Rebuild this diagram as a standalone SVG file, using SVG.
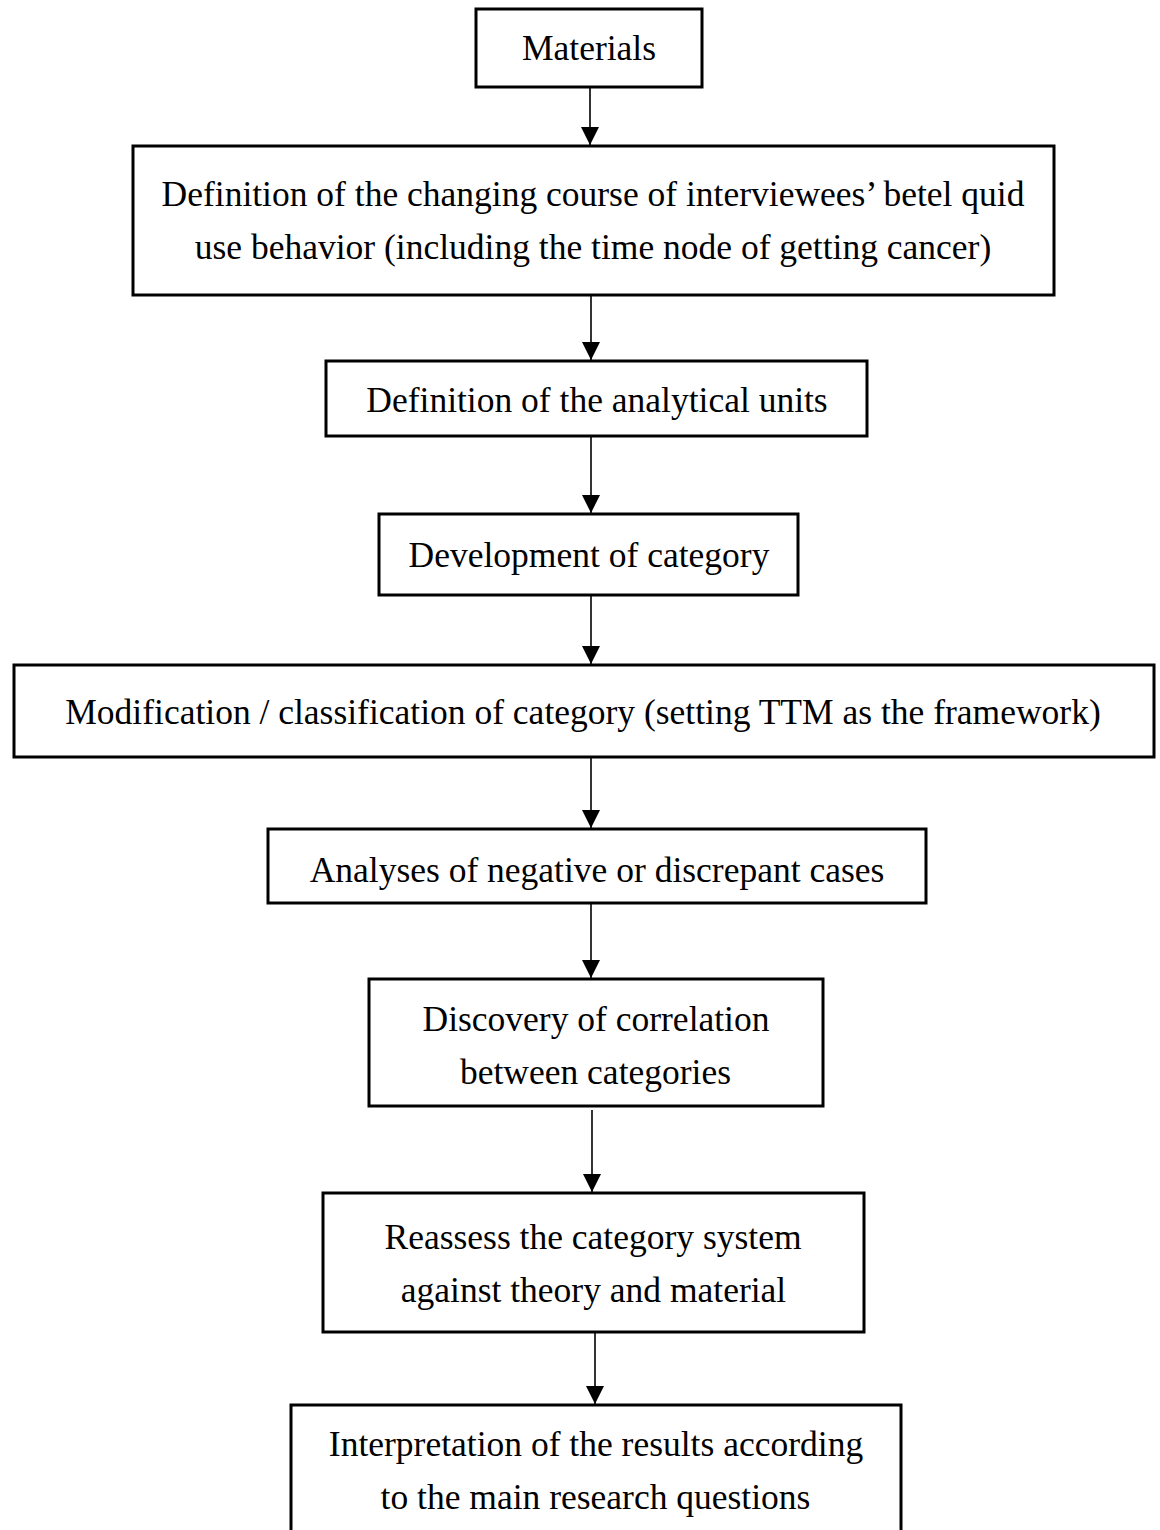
<svg xmlns="http://www.w3.org/2000/svg" width="1160" height="1530" viewBox="0 0 1160 1530">
<style>
.box{fill:#fff;stroke:#000;stroke-width:3}
.t{font-family:"Liberation Serif","Times New Roman",serif;font-size:35.5px;fill:#000;text-anchor:middle}
.c{stroke:#000;stroke-width:1.6;fill:none;marker-end:url(#ah)}
</style>
<defs>
<marker id="ah" markerUnits="userSpaceOnUse" markerWidth="20" markerHeight="20" viewBox="0 0 20 20" refX="18" refY="10" orient="auto">
<path d="M0,1 L18,10 L0,19 Z" fill="#000"/>
</marker>
</defs>
<rect width="1160" height="1530" fill="#fff"/>
<g id="connectors">
<line class="c" x1="590" y1="88" x2="590" y2="145"/>
<line class="c" x1="591" y1="296" x2="591" y2="360"/>
<line class="c" x1="591" y1="437" x2="591" y2="513"/>
<line class="c" x1="591" y1="596" x2="591" y2="664"/>
<line class="c" x1="591" y1="758" x2="591" y2="828"/>
<line class="c" x1="591" y1="904" x2="591" y2="978"/>
<line class="c" x1="592" y1="1110" x2="592" y2="1192"/>
<line class="c" x1="595" y1="1333" x2="595" y2="1404"/>
</g>
<g id="n1"><rect class="box" x="476" y="9" width="226" height="78"/><text class="t" x="589" y="60">Materials</text></g>
<g id="n2"><rect class="box" x="133" y="146" width="921" height="149"/><text class="t" x="593" y="206">Definition of the changing course of interviewees’ betel quid</text><text class="t" x="593" y="259">use behavior (including the time node of getting cancer)</text></g>
<g id="n3"><rect class="box" x="326" y="361" width="541" height="75"/><text class="t" x="597" y="412">Definition of the analytical units</text></g>
<g id="n4"><rect class="box" x="379" y="514" width="419" height="81"/><text class="t" x="589" y="567">Development of category</text></g>
<g id="n5"><rect class="box" x="14" y="665" width="1140" height="92"/><text class="t" x="583" y="724">Modification / classification of category (setting TTM as the framework)</text></g>
<g id="n6"><rect class="box" x="268" y="829" width="658" height="74"/><text class="t" x="597" y="882">Analyses of negative or discrepant cases</text></g>
<g id="n7"><rect class="box" x="369" y="979" width="454" height="127"/><text class="t" x="596" y="1031">Discovery of correlation</text><text class="t" x="595.5" y="1084">between categories</text></g>
<g id="n8"><rect class="box" x="323" y="1193" width="541" height="139"/><text class="t" x="593" y="1249">Reassess the category system</text><text class="t" x="593.5" y="1302">against theory and material</text></g>
<g id="n9"><rect class="box" x="291" y="1405" width="610" height="140"/><text class="t" x="596" y="1456">Interpretation of the results according</text><text class="t" x="595.5" y="1509">to the main research questions</text></g>
</svg>
